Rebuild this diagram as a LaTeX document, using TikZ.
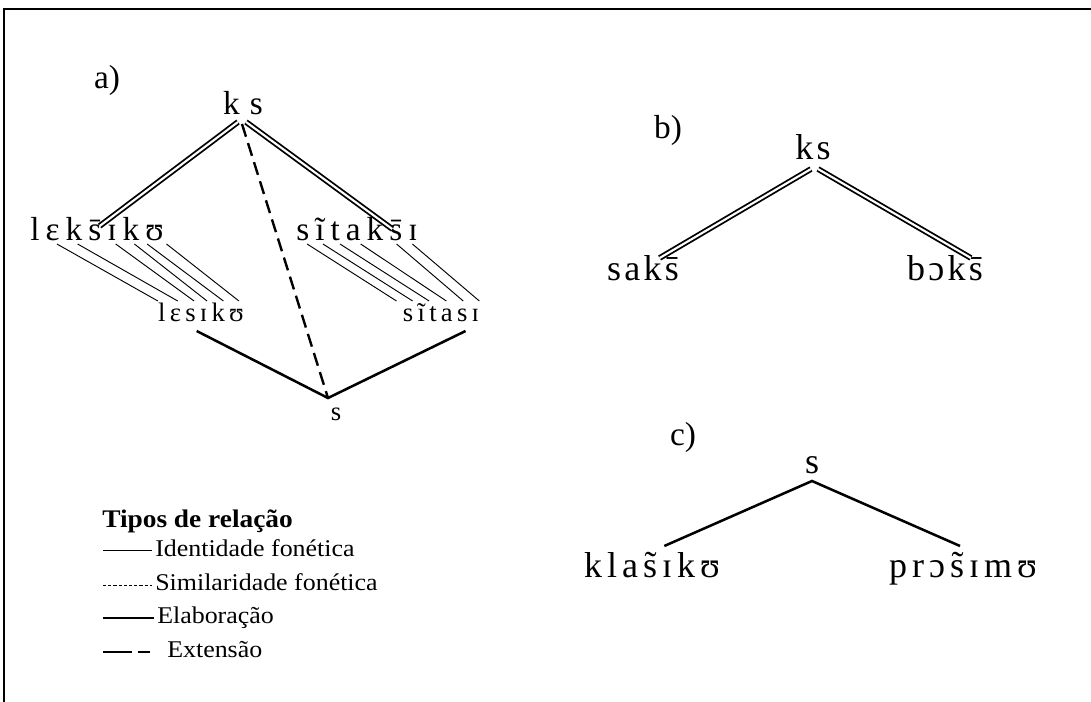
\documentclass[tikz,border=0pt]{standalone}
\usepackage{fontspec}
\setmainfont{Liberation Serif}
\newfontfamily\lgd{Liberation Serif}[FakeStretch=1.08]
\usetikzlibrary{calc}
\begin{document}
\begin{tikzpicture}[x=0.75pt,y=-0.75pt,
  wrd/.style={inner sep=0pt, anchor=base},
  dbl/.style={draw, double, line width=1.35pt, double distance=1.6pt},
  ident/.style={line width=0.7pt},
  elab/.style={line width=1.9pt},
  ext/.style={line width=1.8pt, dash pattern=on 10pt off 5pt},
  simil/.style={line width=0.7pt, dash pattern=on 2.4pt off 1.5pt},
  lbl/.style={wrd, font=\fontsize{25}{30}\selectfont},
  ipaA/.style={wrd, font=\fontsize{25}{30}\selectfont\addfontfeature{LetterSpace=18}},
  ipaB/.style={wrd, font=\fontsize{20}{24}\selectfont\addfontfeature{LetterSpace=16}},
  ipaC/.style={wrd, font=\fontsize{27}{32}\selectfont\addfontfeature{LetterSpace=9}},
  ipaD/.style={wrd, font=\fontsize{27}{32}\selectfont\addfontfeature{LetterSpace=14}},
  legtxt/.style={inner sep=0pt, anchor=base west, font=\lgd\fontsize{18}{21}\selectfont},
]
\useasboundingbox (0,0) rectangle (1091,702);
\fill[white] (0,0) rectangle (1091,702);
\draw[line width=1.3pt] (4,702) -- (4,9) -- (1091,9);

% ---------- a) ----------
\node[lbl] (la) at (107,89) {a)};
\node[wrd, font=\fontsize{25}{30}\selectfont\addfontfeature{LetterSpace=30}] (aks) at (243,115) {ks};
\node[ipaA] (aw1) at (97,241) {lɛks̄ɪkʊ};
\node[ipaA] (aw2) at (357,241) {sĩtaks̄ɪ};
\node[ipaB] (aw3) at (201,321) {lɛsɪkʊ};
\node[ipaB] (as) at (336,420) {s};
\node[ipaB] (aw4) at (441,321) {sĩtasɪ};

\coordinate (aApexL) at (238,122);
\coordinate (aApexR) at (246,122);
\coordinate (aApexD) at (242,124);
\coordinate (aV) at (328,398);

\draw[dbl] (aApexL) -- ($(aw1.base west)!0.52!(aw1.base east)+(0,-15)$);
\draw[dbl] (aApexR) -- ($(aw2.base west)!0.79!(aw2.base east)+(0,-12)$);
\draw[ext] (aApexD) -- (aV);
\draw[elab] ($(aw3.base west)!0.45!(aw3.base east)+(0,10)$) -- (aV)
            -- ($(aw4.base west)!0.82!(aw4.base east)+(0,10)$);

\foreach \f/\g in {0.2/0,0.355/0.23,0.64/0.42,0.78/0.57,0.875/0.76,1.02/0.94}
  \draw[ident] ($(aw1.base west)!\f!(aw1.base east)+(0,3)$) -- ($(aw3.base west)!\g!(aw3.base east)+(0,-20)$);
\foreach \f/\g in {0.09/-0.08,0.22/0.13,0.36/0.345,0.53/0.57,0.825/0.79,0.955/1.0}
  \draw[ident] ($(aw2.base west)!\f!(aw2.base east)+(0,3)$) -- ($(aw4.base west)!\g!(aw4.base east)+(0,-20)$);

% ---------- b) ----------
\node[lbl] (lb) at (668,139) {b)};
\node[ipaC] (bks) at (813,160) {ks};
\node[ipaC] (bw1) at (643,280) {saks̄};
\node[ipaC] (bw2) at (945,280) {bɔks̄};
\coordinate (bApexL) at (811,169);
\coordinate (bApexR) at (818,169);
\draw[dbl] (bApexL) -- ($(bw1.base west)!0.73!(bw1.base east)+(0,-22)$);
\draw[dbl] (bApexR) -- ($(bw2.base west)!0.84!(bw2.base east)+(0,-22)$);

% ---------- c) ----------
\node[lbl] (lc) at (683,445) {c)};
\node[ipaC] (cs) at (812,473) {s};
\node[ipaD] (cw1) at (652,577) {klas̃ɪkʊ};
\node[ipaD] (cw2) at (963,577) {prɔs̃ɪmʊ};
\coordinate (cApex) at (812,481);
\draw[elab] ($(cw1.base west)!0.59!(cw1.base east)+(0,-31)$) -- (cApex)
            -- ($(cw2.base west)!0.48!(cw2.base east)+(0,-31)$);

% ---------- legend ----------
\node[legtxt, font=\lgd\bfseries\fontsize{19}{22}\selectfont] (lt) at (102,527) {Tipos de relação};
\node[legtxt] (l1) at (155,556) {Identidade fonética};
\node[legtxt] (l2) at (155,590) {Similaridade fonética};
\node[legtxt] (l3) at (157,623) {Elaboração};
\node[legtxt] (l4) at (167,657) {Extensão};
\draw[ident] (103,550) -- ([xshift=-2]l1.west |- 0,550);
\draw[simil] (103,585) -- ([xshift=-2]l2.west |- 0,585);
\draw[elab, line width=1.7pt] (103,618) -- ([xshift=-2]l3.west |- 0,618);
\draw[line width=1.7pt] (103,652) -- (132,652);
\draw[line width=1.7pt] (138,652) -- (150,652);
\end{tikzpicture}
\end{document}
